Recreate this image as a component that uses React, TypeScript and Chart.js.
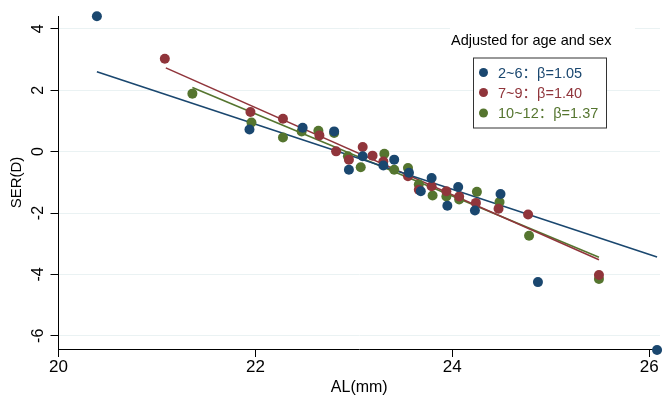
import React, { useEffect, useRef } from 'react';
import { Chart, registerables } from 'chart.js';

Chart.register(...registerables);

// ---- Data ----
const groupLabels = ['2~6', '7~9', '10~12'];
const betaLabels = ['1.05', '1.40', '1.37'];
const legendTitle = 'Adjusted for age and sex';
const xAxisTitle = 'AL(mm)';
const yAxisTitle = 'SER(D)';
const xTickStep = 2;
const yTickStep = 2;

// Age 2~6
const al_2_6 = [20.39, 21.94, 22.48, 22.80, 22.95, 23.09, 23.30, 23.41, 23.56, 23.68, 23.79, 23.95, 24.06, 24.23, 24.49, 24.87, 26.08];
const ser_2_6 = [4.41, 0.72, 0.78, 0.66, -0.59, -0.15, -0.45, -0.26, -0.69, -1.29, -0.86, -1.76, -1.15, -1.92, -1.38, -4.25, -6.46];
// Age 7~9
const al_7_9 = [21.08, 21.95, 22.28, 22.65, 22.82, 22.95, 23.09, 23.19, 23.30, 23.55, 23.66, 23.79, 23.94, 24.07, 24.24, 24.47, 24.77, 25.49];
const ser_7_9 = [3.03, 1.29, 1.07, 0.53, 0.01, -0.26, 0.15, -0.13, -0.32, -0.80, -1.24, -1.13, -1.29, -1.46, -1.67, -1.86, -2.05, -4.02];
// Age 10~12
const al_10_12 = [21.36, 21.96, 22.28, 22.47, 22.64, 22.80, 22.94, 23.07, 23.31, 23.41, 23.55, 23.66, 23.80, 23.94, 24.07, 24.25, 24.48, 24.78, 25.49];
const ser_10_12 = [1.89, 0.95, 0.46, 0.66, 0.68, 0.61, -0.15, -0.51, -0.07, -0.59, -0.53, -1.07, -1.43, -1.46, -1.56, -1.31, -1.64, -2.74, -4.15];

// Fitted lines (end points)
const fitAL_2_6 = [20.39, 26.08];
const fitSER_2_6 = [2.60, -3.43];
const fitAL_7_9 = [21.09, 25.49];
const fitSER_7_9 = [2.73, -3.52];
const fitAL_10_12 = [21.36, 25.49];
const fitSER_10_12 = [2.09, -3.44];

const seriesColors = ['#1a476f', '#90353b', '#55752f'];

const FONT = '"Liberation Sans", Arial, "Noto Sans CJK SC", sans-serif';

const toPoints = (xs: number[], ys: number[]) => xs.map((x, i) => ({ x, y: ys[i] }));

const legendPlugin = {
  id: 'stataLegend',
  afterDraw(chart: any) {
    const ctx = chart.ctx as CanvasRenderingContext2D;
    ctx.save();
    // white region behind the title
    ctx.fillStyle = '#ffffff';
    ctx.fillRect(450, 24, 185, 14);
    ctx.font = `14.5px ${FONT}`;
    ctx.fillStyle = '#000';
    ctx.textAlign = 'left';
    ctx.textBaseline = 'middle';
    ctx.fillText(legendTitle, 451, 41);
    // box
    const bx = 473.5, by = 58, bw = 133, bh = 70;
    ctx.fillStyle = '#ffffff';
    ctx.fillRect(bx, by, bw, bh);
    ctx.strokeStyle = '#333';
    ctx.lineWidth = 1;
    ctx.strokeRect(bx, by, bw, bh);
    const rows = [72.5, 92.5, 113];
    groupLabels.forEach((g, i) => {
      ctx.fillStyle = seriesColors[i];
      ctx.beginPath();
      ctx.arc(483.5, rows[i], 4.5, 0, Math.PI * 2);
      ctx.fill();
      ctx.font = `14.5px ${FONT}`;
      ctx.fillText(`${g}：β=${betaLabels[i]}`, 498, rows[i] + 1);
    });
    ctx.restore();
  },
};

export default function App() {
  const ref = useRef<HTMLCanvasElement | null>(null);
  useEffect(() => {
    if (!ref.current) return;
    const scatterDs = (label: string, xs: number[], ys: number[], color: string) => ({
      type: 'scatter' as const,
      label,
      data: toPoints(xs, ys),
      backgroundColor: color,
      borderColor: color,
      borderWidth: 0,
      pointRadius: 5,
      pointHoverRadius: 5,
      clip: false as any,
    });
    const lineDs = (label: string, xs: number[], ys: number[], color: string) => ({
      type: 'line' as const,
      label,
      data: toPoints(xs, ys),
      borderColor: color,
      backgroundColor: color,
      borderWidth: 1.6,
      pointRadius: 0,
      fill: false,
      tension: 0,
    });
    const chart = new Chart(ref.current, {
      type: 'scatter',
      data: {
        datasets: [
          scatterDs(groupLabels[0], al_2_6, ser_2_6, seriesColors[0]),
          scatterDs(groupLabels[1], al_7_9, ser_7_9, seriesColors[1]),
          scatterDs(groupLabels[2], al_10_12, ser_10_12, seriesColors[2]),
          lineDs('fit ' + groupLabels[0], fitAL_2_6, fitSER_2_6, seriesColors[0]),
          lineDs('fit ' + groupLabels[1], fitAL_7_9, fitSER_7_9, seriesColors[1]),
          lineDs('fit ' + groupLabels[2], fitAL_10_12, fitSER_10_12, seriesColors[2]),
        ] as any,
      },
      options: {
        animation: false,
        responsive: false,
        maintainAspectRatio: false,
        devicePixelRatio: 1,
        layout: { padding: { top: 16, right: 0, bottom: 0, left: 0 } },
        plugins: {
          legend: { display: false },
          tooltip: { enabled: false },
        },
        scales: {
          x: {
            type: 'linear',
            min: 20,
            max: 26.11,
            afterFit: (s: any) => {
              s.height = 48;
              s.paddingLeft = 0;
              s.paddingRight = 0;
            },
            ticks: {
              stepSize: xTickStep,
              includeBounds: false,
              color: '#000',
              font: { family: FONT, size: 17 },
              padding: 0,
              maxRotation: 0,
            },
            grid: {
              drawOnChartArea: false,
              drawTicks: true,
              tickLength: 8,
              tickColor: '#000',
              tickWidth: 1,
            },
            border: { display: true, color: '#000', width: 1 },
            title: {
              display: true,
              text: xAxisTitle,
              color: '#000',
              font: { family: FONT, size: 16 },
              padding: { top: 0, bottom: 0 },
            },
          },
          y: {
            type: 'linear',
            min: -6.43,
            max: 4.42,
            afterFit: (s: any) => {
              s.width = 58.5;
              s.paddingTop = 0;
              s.paddingBottom = 0;
            },
            ticks: {
              stepSize: yTickStep,
              includeBounds: false,
              color: '#000',
              font: { family: FONT, size: 16 },
              padding: 5,
              minRotation: 90,
              maxRotation: 90,
              crossAlign: 'center',
            },
            grid: {
              color: '#eaf2f3',
              lineWidth: 1,
              drawTicks: true,
              tickLength: 8,
              tickColor: '#000',
              tickWidth: 1,
            },
            border: { display: true, color: '#000', width: 1 },
            title: {
              display: true,
              text: yAxisTitle,
              color: '#000',
              font: { family: FONT, size: 15 },
              padding: { top: 8, bottom: 0 },
            },
          },
        },
      },
      plugins: [legendPlugin],
    });
    return () => chart.destroy();
  }, []);
  return (
    <div style={{ position: 'fixed', left: 0, top: 0, width: 665, height: 397, background: '#fff' }}>
      <canvas ref={ref} width={665} height={397} style={{ width: 665, height: 397, display: 'block' }} />
    </div>
  );
}
